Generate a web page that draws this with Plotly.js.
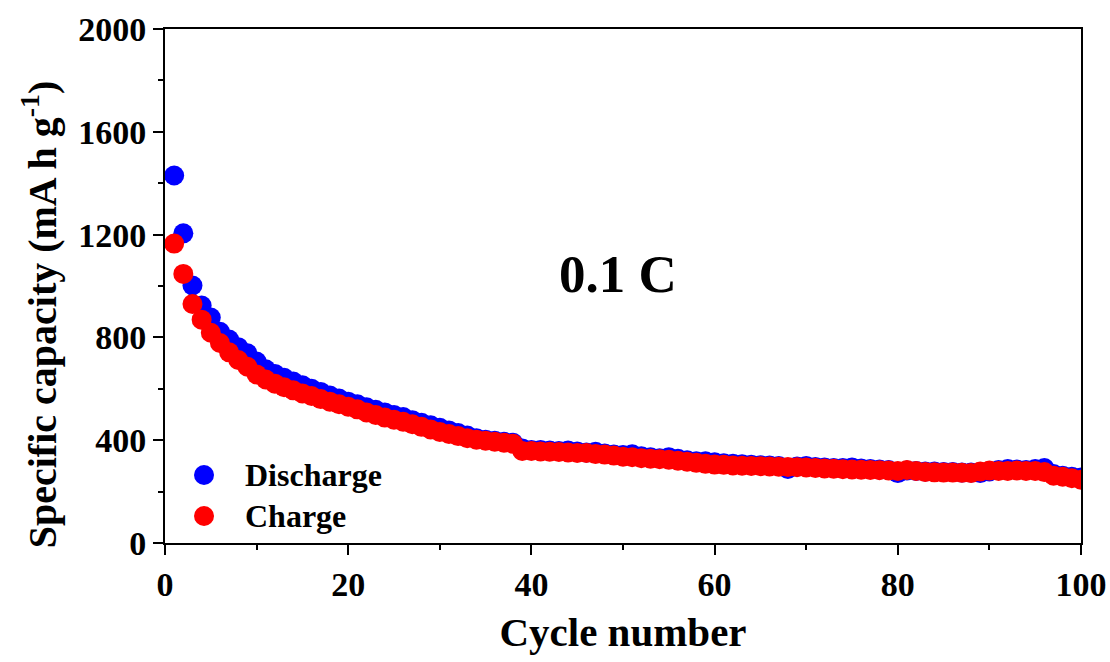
<!DOCTYPE html>
<html>
<head>
<meta charset="utf-8">
<script src="https://cdn.plot.ly/plotly-3.0.1.min.js"></script>
<style>html,body{margin:0;padding:0;background:#fff;}#chart{width:1110px;height:662px;}</style>
</head>
<body>
<div id="chart"></div>
<script>
const cycles = Array.from({length: 100}, (_, i) => i + 1);
const discharge = [
1430,1205,1002,924,877,822,792,762,738,706,
676,658,643,628,614,600,588,574,562,550,
540,528,518,508,498,490,478,468,458,448,
438,428,418,408,402,398,394,390,368,362,
362,360,358,360,356,352,355,348,344,342,
345,338,334,330,334,328,322,318,318,314,
310,308,306,304,303,302,300,288,298,300,
296,294,292,292,294,290,288,286,284,272,
282,280,278,278,276,276,274,274,272,278,
284,288,286,284,288,292,268,262,258,255];
const charge = [
1165,1047,930,869,818,778,742,712,686,656,
636,620,606,594,582,572,560,550,540,530,
520,508,498,488,480,472,462,452,442,432,
424,416,408,402,398,394,390,386,358,358,
356,355,354,352,350,350,346,344,340,336,
334,330,328,326,324,320,316,312,308,305,
304,302,301,300,299,298,297,296,295,294,
292,290,289,287,286,285,284,283,282,280,
284,280,276,275,274,274,273,272,278,282,
280,280,282,280,280,276,262,258,252,246];
const xTicks = [0, 20, 40, 60, 80, 100];
const yTicks = [0, 400, 800, 1200, 1600, 2000];
const seriesNames = ['Discharge', 'Charge'];
const seriesColors = ['#0000FF', '#FF0000'];

const FONT = 'Liberation Serif, Times New Roman, serif';

const traces = [
  {x: cycles, y: discharge, name: seriesNames[0], type: 'scatter', mode: 'markers',
   marker: {color: seriesColors[0], size: 20, line: {width: 0}}},
  {x: cycles, y: charge, name: seriesNames[1], type: 'scatter', mode: 'markers',
   marker: {color: seriesColors[1], size: 20, line: {width: 0}}}
];

const axisCommon = {
  showgrid: false, zeroline: false, showline: true, linecolor: '#000', linewidth: 2,
  mirror: true, ticks: 'outside', ticklen: 10, tickwidth: 2, tickcolor: '#000',
  tickfont: {family: FONT, size: 34, color: '#000', weight: 'bold'}
};

// custom legend (circle + label) placed in paper coordinates
const legendY = [0.1324, 0.0526];
const legendShapes = seriesNames.map((n, i) => ({
  type: 'circle', xref: 'paper', yref: 'paper',
  xsizemode: 'pixel', ysizemode: 'pixel', xanchor: 0.0426, yanchor: legendY[i],
  x0: -10, x1: 10, y0: -10, y1: 10,
  fillcolor: seriesColors[i], line: {width: 0}
}));
const legendTexts = seriesNames.map((n, i) => ({
  xref: 'paper', yref: 'paper', x: 0.0852, y: legendY[i], xanchor: 'left', yanchor: 'middle',
  text: n, showarrow: false, font: {family: FONT, size: 32, color: '#000', weight: 'bold'}
}));

const layout = {
  width: 1110, height: 662,
  margin: {l: 165, r: 29, t: 29, b: 119},
  paper_bgcolor: '#fff', plot_bgcolor: '#fff',
  showlegend: false,
  xaxis: Object.assign({}, axisCommon, {
    range: [0, 100], tickvals: xTicks, ticktext: xTicks.map(String),
    minor: {dtick: 10, ticks: 'outside', ticklen: 5, tickwidth: 2, tickcolor: '#000', showgrid: false},
    title: {text: 'Cycle number', font: {family: FONT, size: 41, color: '#000', weight: 'bold'}, standoff: 16}
  }),
  yaxis: Object.assign({}, axisCommon, {
    range: [0, 2000], tickvals: yTicks, ticktext: yTicks.map(String),
    minor: {dtick: 200, ticks: 'outside', ticklen: 5, tickwidth: 2, tickcolor: '#000', showgrid: false}
  }),
  shapes: legendShapes,
  annotations: [
    {x: 49.5, y: 1045, xref: 'x', yref: 'y', text: '0.1 C', showarrow: false,
     font: {family: FONT, size: 53, color: '#000', weight: 'bold'}},
    {xref: 'paper', yref: 'paper', x: -0.137, y: 0.444, xanchor: 'center', yanchor: 'middle',
     textangle: -90, showarrow: false, text: 'Specific capacity (mA h g<sup>-1</sup>)',
     font: {family: FONT, size: 40, color: '#000', weight: 'bold'}}
  ].concat(legendTexts)
};

Plotly.newPlot('chart', traces, layout, {displayModeBar: false, staticPlot: true});
</script>
</body>
</html>
